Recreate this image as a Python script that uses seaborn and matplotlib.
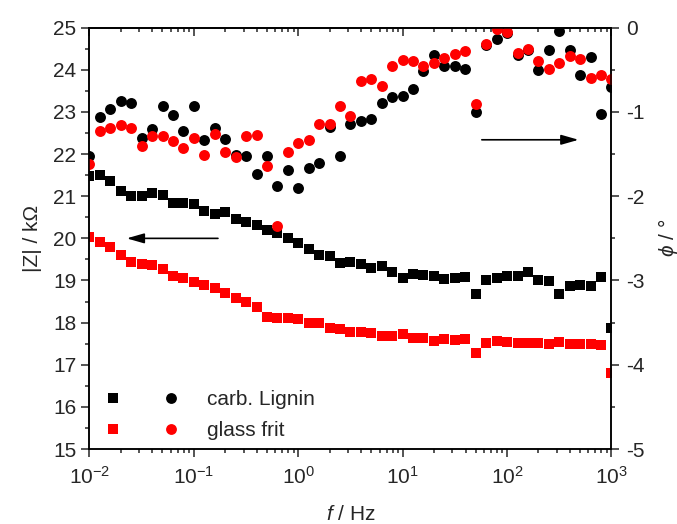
import numpy as np
import pandas as pd
import matplotlib
matplotlib.use('Agg')
import matplotlib.pyplot as plt
import seaborn as sns
from matplotlib.lines import Line2D
from matplotlib.legend_handler import HandlerTuple
from matplotlib.ticker import MultipleLocator

# Frequencies, 10 points per decade (Hz)
freq = [0.01, 0.0126, 0.0158, 0.02, 0.0251, 0.0316, 0.0398, 0.0501, 0.0631, 0.0794,
        0.1, 0.126, 0.158, 0.2, 0.251, 0.316, 0.398, 0.501, 0.631, 0.794,
        1.0, 1.26, 1.58, 2.0, 2.51, 3.16, 3.98, 5.01, 6.31, 7.94,
        10.0, 12.6, 15.8, 20.0, 25.1, 31.6, 39.8, 50.1, 63.1, 79.4,
        100.0, 126.0, 158.0, 200.0, 251.0, 316.0, 398.0, 501.0, 631.0, 794.0,
        1000.0]

# |Z| in kOhm
z_lignin = [21.47, 21.50, 21.36, 21.13, 21.01, 21.01, 21.07, 21.03, 20.85, 20.85,
            20.82, 20.65, 20.57, 20.63, 20.47, 20.39, 20.32, 20.19, 20.12, 20.01,
            19.88, 19.74, 19.60, 19.58, 19.41, 19.44, 19.38, 19.30, 19.35, 19.20,
            19.07, 19.16, 19.13, 19.10, 19.03, 19.06, 19.09, 18.69, 19.00, 19.05,
            19.11, 19.11, 19.20, 19.02, 18.98, 18.69, 18.87, 18.89, 18.86, 19.09,
            17.88]
z_frit = [20.04, 19.92, 19.79, 19.60, 19.45, 19.38, 19.36, 19.28, 19.11, 19.06,
          18.96, 18.89, 18.82, 18.70, 18.59, 18.49, 18.37, 18.14, 18.11, 18.11,
          18.08, 18.00, 17.98, 17.88, 17.86, 17.77, 17.78, 17.75, 17.69, 17.68,
          17.72, 17.64, 17.64, 17.57, 17.61, 17.58, 17.61, 17.27, 17.52, 17.57,
          17.53, 17.52, 17.52, 17.52, 17.50, 17.53, 17.50, 17.50, 17.49, 17.48,
          16.81]

# phase in degrees
phi_lignin = [-1.52, -1.06, -0.96, -0.87, -0.89, -1.31, -1.20, -0.93, -1.03, -1.23,
              -0.93, -1.33, -1.19, -1.32, -1.51, -1.52, -1.74, -1.52, -1.88, -1.69,
              -1.90, -1.66, -1.61, -1.18, -1.52, -1.14, -1.11, -1.08, -0.89, -0.82,
              -0.81, -0.73, -0.51, -0.32, -0.46, -0.45, -0.49, -1.00, -0.21, -0.13,
              -0.06, -0.32, -0.27, -0.50, -0.26, -0.04, -0.26, -0.56, -0.35, -1.02,
              -0.70]
phi_frit = [-1.62, -1.23, -1.19, -1.15, -1.19, -1.40, -1.29, -1.29, -1.34, -1.43,
            -1.31, -1.51, -1.26, -1.48, -1.54, -1.29, -1.27, -1.64, -2.35, -1.47,
            -1.37, -1.33, -1.14, -1.14, -0.93, -1.05, -0.63, -0.61, -0.69, -0.46,
            -0.38, -0.39, -0.46, -0.42, -0.36, -0.31, -0.28, -0.91, -0.19, -0.01,
            -0.05, -0.30, -0.25, -0.39, -0.49, -0.42, -0.34, -0.37, -0.60, -0.56,
            -0.61]

labels = ['carb. Lignin', 'glass frit']
colors = ['black', 'red']

sns.set_style('ticks')
plt.rcParams['font.family'] = ['Liberation Sans', 'DejaVu Sans']
plt.rcParams['mathtext.fontset'] = 'custom'
plt.rcParams['mathtext.rm'] = 'Liberation Sans'
plt.rcParams['mathtext.it'] = 'Liberation Sans:italic'
plt.rcParams['axes.unicode_minus'] = False

df = pd.DataFrame({'f': freq, 'z_l': z_lignin, 'z_g': z_frit,
                   'p_l': phi_lignin, 'p_g': phi_frit})

fs = 15
fig = plt.figure(figsize=(6.77, 5.24), dpi=100)
ax = fig.add_axes([0.1322, 0.1431, 0.7710, 0.8040])
ax2 = ax.twinx()

sq_s, ci_s = 50, 62
sns.scatterplot(data=df, x='f', y='z_l', ax=ax, marker='s', color=colors[0], s=sq_s, linewidth=0, legend=False)
sns.scatterplot(data=df, x='f', y='z_g', ax=ax, marker='s', color=colors[1], s=sq_s, linewidth=0, legend=False)
sns.scatterplot(data=df, x='f', y='p_l', ax=ax2, marker='o', color=colors[0], s=ci_s, linewidth=0, legend=False)
sns.scatterplot(data=df, x='f', y='p_g', ax=ax2, marker='o', color=colors[1], s=ci_s, linewidth=0, legend=False)

ax.set_xscale('log')
ax.set_xlim(1e-2, 1e3)
ax.set_ylim(15, 25)
ax2.set_ylim(-5, 0)
ax.yaxis.set_major_locator(MultipleLocator(1))
ax.yaxis.set_minor_locator(MultipleLocator(0.5))
ax2.yaxis.set_major_locator(MultipleLocator(1))
ax2.yaxis.set_minor_locator(MultipleLocator(0.5))

for a in (ax, ax2):
    for sp in a.spines.values():
        sp.set_visible(True)
        sp.set_linewidth(1.1)
        sp.set_color('black')

ax.tick_params(axis='both', which='major', direction='out', length=5.5, width=1.1,
               labelsize=fs, right=False, top=False, pad=4)
ax.tick_params(axis='x', which='major', pad=7)
ax.tick_params(axis='both', which='minor', direction='out', length=3, width=1.1,
               right=False, top=False)
ax2.tick_params(axis='y', which='major', direction='out', length=5.5, width=1.1,
                labelsize=fs, pad=5)
ax2.tick_params(axis='y', which='minor', direction='out', length=3, width=1.1)

secax = ax.secondary_xaxis('top')
secax.tick_params(which='major', direction='in', length=5.5, width=1.1, labeltop=False)
secax.tick_params(which='minor', direction='in', length=3, width=1.1)
secax.spines['top'].set_linewidth(1.1)

ax.set_xlabel('$f$ / Hz', fontsize=fs, labelpad=12)
ax.set_ylabel('|Z| / k\u03a9', fontsize=fs, labelpad=8)
ax2.set_ylabel('$\\phi$ / \u00b0', fontsize=fs, labelpad=8)

# arrows pointing to the matching axis
arrow = dict(arrowstyle='-|>,head_length=0.7,head_width=0.2', color='black', lw=1.2,
             mutation_scale=15, shrinkA=0, shrinkB=0)
ax.annotate('', xy=(0.0227, 20.0), xytext=(0.17, 20.0), arrowprops=arrow)
ax2.annotate('', xy=(484, -1.33), xytext=(57.3, -1.33), arrowprops=arrow)

handles = []
for c in colors:
    sq = Line2D([], [], ls='', marker='s', color=c, markersize=6.8, markeredgewidth=0)
    ci = Line2D([], [], ls='', marker='o', color=c, markersize=7.8, markeredgewidth=0)
    handles.append((sq, ci))
ax2.legend(handles, labels, handler_map={tuple: HandlerTuple(ndivide=None, pad=2.3)},
           handlelength=3.2, handletextpad=1.5, frameon=False, fontsize=fs,
           loc='upper left', bbox_to_anchor=(0.037, 0.139), borderpad=0,
           borderaxespad=0, labelspacing=0.55)

fig.savefig('out.png', dpi=100)
